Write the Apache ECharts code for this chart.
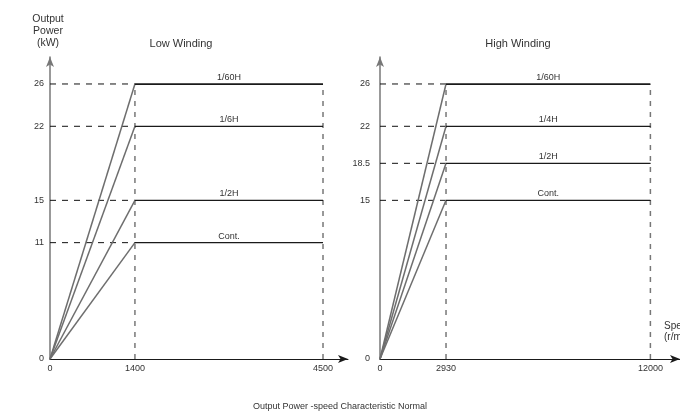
<!DOCTYPE html>
<html>
<head>
<meta charset="utf-8">
<script src="https://cdn.jsdelivr.net/npm/echarts@6/dist/echarts.min.js"></script>
<style>
  html, body { margin: 0; padding: 0; background: #fff; }
  #chart { width: 680px; height: 416px; }
</style>
</head>
<body>
<div id="chart"></div>
<script>
// Low winding: base speed, max speed and the power level of each duty rating
const speedLow = [0, 1400, 4500];
const powerLow = [26, 22, 15, 11];
const dutyLow = ['1/60H', '1/6H', '1/2H', 'Cont.'];

// High winding
const speedHigh = [0, 2930, 12000];
const powerHigh = [26, 22, 18.5, 15];
const dutyHigh = ['1/60H', '1/4H', '1/2H', 'Cont.'];

const FONT = 'Liberation Sans, Arial, sans-serif';
const TEXT = '#333';
const RAMP = '#6e6e6e';
const FLAT = '#1a1a1a';

function panelSeries(idx, speeds, powers, duties) {
  const [s0, sBase, sMax] = speeds;
  const top = Math.max(...powers);
  const out = [];
  // dashed guides: power levels up to base speed
  powers.forEach(p => {
    out.push({
      type: 'line', xAxisIndex: idx, yAxisIndex: idx, silent: true,
      symbol: 'none', data: [[s0, p], [sBase, p]],
      lineStyle: { color: '#111', width: 1, type: [6, 6] }, z: 1
    });
  });
  // dashed verticals at base and max speed
  [sBase, sMax].forEach(s => {
    out.push({
      type: 'line', xAxisIndex: idx, yAxisIndex: idx, silent: true,
      symbol: 'none', data: [[s, 0], [s, top]],
      lineStyle: { color: '#777', width: 1.5, type: [5, 6] }, z: 1
    });
  });
  powers.forEach((p, i) => {
    // constant-torque ramp
    out.push({
      type: 'line', xAxisIndex: idx, yAxisIndex: idx, silent: true,
      symbol: 'none', data: [[s0, 0], [sBase, p]],
      lineStyle: { color: RAMP, width: 1.5 }, z: 3
    });
    // constant-power plateau, its duty rating written above mid-span
    out.push({
      type: 'line', xAxisIndex: idx, yAxisIndex: idx, silent: true,
      symbol: 'none',
      data: [[sBase, p], [sMax, p]],
      lineStyle: { color: FLAT, width: 1.2 }, z: 3,
      markLine: {
        silent: true, symbol: 'none',
        lineStyle: { color: FLAT, width: 1.2, type: 'solid' },
        label: {
          show: true, position: 'middle', distance: 2, formatter: duties[i],
          color: TEXT, fontSize: 9, fontFamily: FONT
        },
        data: [[{ coord: [sBase, p] }, { coord: [sMax, p] }]]
      }
    });
  });
  return out;
}

function xAxisFor(idx, speeds, max) {
  return {
    type: 'value', gridIndex: idx, min: 0, max: max,
    splitLine: { show: false },
    axisTick: { show: false },
    axisLine: { lineStyle: { color: FLAT, width: 1 }, symbol: ['none', 'arrow'], symbolSize: [6, 10] },
    axisLabel: {
      customValues: speeds, formatter: v => String(v),
      color: TEXT, fontSize: 9, fontFamily: FONT, margin: 5
    }
  };
}

function yAxisFor(idx, powers, margin) {
  return {
    type: 'value', gridIndex: idx, min: 0, max: 28.55,
    splitLine: { show: false },
    axisTick: { show: false },
    axisLine: { lineStyle: { color: '#777', width: 1.5 }, symbol: ['none', 'arrow'], symbolSize: [6, 10] },
    axisLabel: {
      customValues: [0].concat(powers), formatter: v => String(v),
      color: TEXT, fontSize: 9, fontFamily: FONT, margin: margin
    }
  };
}

const chart = echarts.init(document.getElementById('chart'), null, { renderer: 'canvas' });

const label = (x, y, text, size, align) => ({
  type: 'text', x: x, y: y, silent: true,
  style: {
    text: text, fill: TEXT, font: size + 'px ' + FONT,
    textAlign: align || 'center', textVerticalAlign: 'middle'
  }
});

chart.setOption({
  animation: false,
  backgroundColor: '#fff',
  grid: [
    { left: 50, top: 57, width: 298, height: 302 },
    { left: 380, top: 57, width: 304, height: 302 }
  ],
  xAxis: [
    xAxisFor(0, speedLow, 4912),
    xAxisFor(1, speedHigh, 13314)
  ],
  yAxis: [
    yAxisFor(0, powerLow, 6),
    yAxisFor(1, powerHigh, 10)
  ],
  series: panelSeries(0, speedLow, powerLow, dutyLow)
    .concat(panelSeries(1, speedHigh, powerHigh, dutyHigh)),
  graphic: [
    label(48, 19, 'Output', 10.5),
    label(48, 31, 'Power', 10.5),
    label(48, 43, '(kW)', 10.5),
    label(181, 44, 'Low Winding', 11),
    label(518, 44, 'High Winding', 11),
    label(664, 326, 'Speed', 10, 'left'),
    label(664, 337, '(r/min)', 10, 'left'),
    label(340, 407, 'Output Power -speed Characteristic Normal', 9)
  ]
});
</script>
</body>
</html>
